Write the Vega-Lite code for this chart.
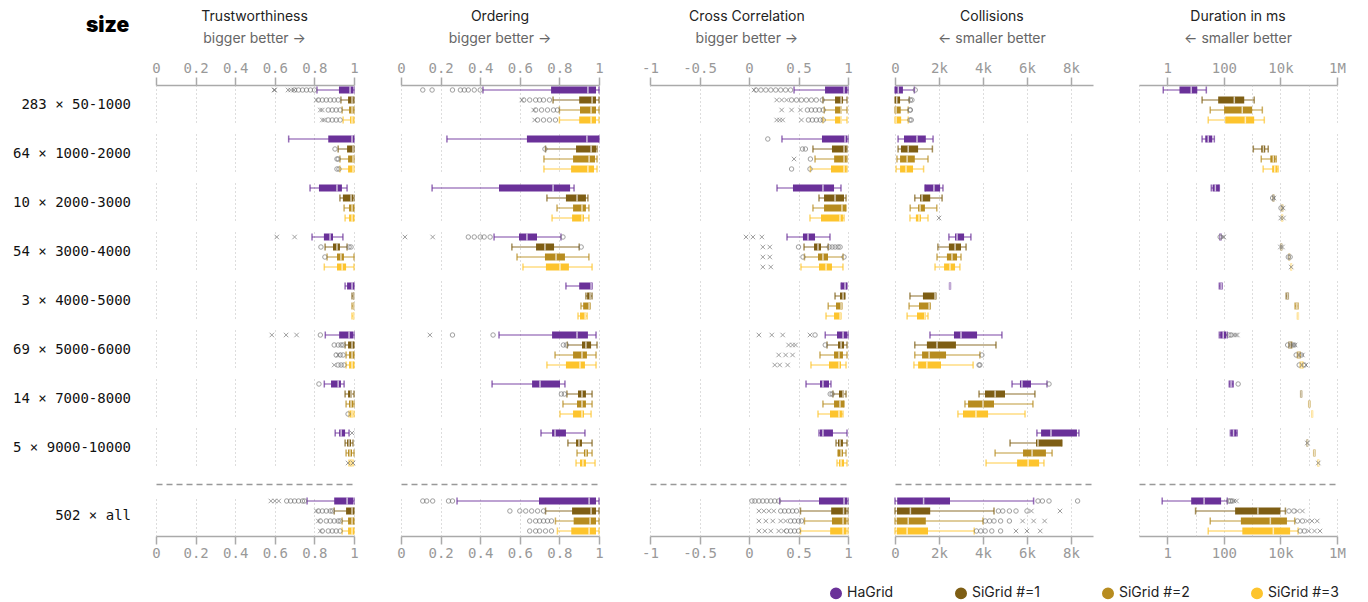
{
"$schema":"https://vega.github.io/schema/vega-lite/v6.json",
"padding":{"left":12,"top":10,"right":10,"bottom":5},
"spacing":16,
"title":{"text":"size","anchor":"start","frame":"bounds","fontSize":21,"fontWeight":900,"color":"#000","offset":-26,"dx":73},
"config":{
 "view":{"stroke":null},
 "font":"Inter",
 "range":{"category":["#6a3199","#7e5e14","#b78c20","#fdc42d"]},
 "axis":{"domainColor":"#aaa","domainWidth":1.5,"tickColor":"#aaa","tickWidth":1.5,"tickSize":8,"labelFont":"DejaVu Sans Mono","labelFontSize":14,"labelColor":"#999","labelPadding":2,"labelOverlap":false,"labelSeparation":0,"labelFlush":false,"gridColor":"#bbb","gridDash":[1,3],"gridWidth":1},
 "title":{"fontSize":14,"fontWeight":"normal","color":"#222","subtitleFontSize":14,"subtitleColor":"#666","subtitlePadding":8,"offset":15,"anchor":"middle","frame":"bounds"},
 "legend":{"orient":"none","legendX":673,"legendY":501,"direction":"horizontal","symbolType":"circle","symbolSize":110,"symbolOpacity":1,"labelFontSize":14,"labelFont":"Inter","labelColor":"#222","columnPadding":58}
},
"datasets":{"d":[
{"m":"T","s":"283 × 50-1000","g":"HaGrid","lo":0.813,"q1":0.924,"md":0.98,"q3":0.995,"hi":1},
{"m":"T","s":"283 × 50-1000","g":"SiGrid #=1","lo":0.934,"q1":0.97,"md":0.99,"q3":0.998,"hi":1},
{"m":"T","s":"283 × 50-1000","g":"SiGrid #=2","lo":0.94,"q1":0.975,"md":0.99,"q3":0.998,"hi":1},
{"m":"T","s":"283 × 50-1000","g":"SiGrid #=3","lo":0.945,"q1":0.98,"md":0.99,"q3":0.998,"hi":1},
{"m":"T","s":"64 × 1000-2000","g":"HaGrid","lo":0.67,"q1":0.87,"md":0.99,"q3":1,"hi":1},
{"m":"T","s":"64 × 1000-2000","g":"SiGrid #=1","lo":0.92,"q1":0.965,"md":0.995,"q3":1,"hi":1},
{"m":"T","s":"64 × 1000-2000","g":"SiGrid #=2","lo":0.929,"q1":0.97,"md":0.995,"q3":1,"hi":1},
{"m":"T","s":"64 × 1000-2000","g":"SiGrid #=3","lo":0.929,"q1":0.97,"md":0.995,"q3":1,"hi":1},
{"m":"T","s":"10 × 2000-3000","g":"HaGrid","lo":0.778,"q1":0.823,"md":0.914,"q3":0.939,"hi":0.965},
{"m":"T","s":"10 × 2000-3000","g":"SiGrid #=1","lo":0.929,"q1":0.944,"md":0.985,"q3":0.995,"hi":1},
{"m":"T","s":"10 × 2000-3000","g":"SiGrid #=2","lo":0.95,"q1":0.975,"md":0.99,"q3":1,"hi":1},
{"m":"T","s":"10 × 2000-3000","g":"SiGrid #=3","lo":0.955,"q1":0.975,"md":0.99,"q3":1,"hi":1},
{"m":"T","s":"54 × 3000-4000","g":"HaGrid","lo":0.788,"q1":0.848,"md":0.879,"q3":0.894,"hi":0.944},
{"m":"T","s":"54 × 3000-4000","g":"SiGrid #=1","lo":0.854,"q1":0.894,"md":0.914,"q3":0.929,"hi":0.965},
{"m":"T","s":"54 × 3000-4000","g":"SiGrid #=2","lo":0.864,"q1":0.914,"md":0.934,"q3":0.949,"hi":1},
{"m":"T","s":"54 × 3000-4000","g":"SiGrid #=3","lo":0.85,"q1":0.914,"md":0.94,"q3":0.96,"hi":1},
{"m":"T","s":"3 × 4000-5000","g":"HaGrid","lo":0.955,"q1":0.965,"md":0.99,"q3":1,"hi":1},
{"m":"T","s":"3 × 4000-5000","g":"SiGrid #=1","lo":0.99,"q1":0.995,"md":1,"q3":1,"hi":1},
{"m":"T","s":"3 × 4000-5000","g":"SiGrid #=2","lo":0.99,"q1":0.995,"md":1,"q3":1,"hi":1},
{"m":"T","s":"3 × 4000-5000","g":"SiGrid #=3","lo":0.99,"q1":0.995,"md":1,"q3":1,"hi":1},
{"m":"T","s":"69 × 5000-6000","g":"HaGrid","lo":0.855,"q1":0.925,"md":0.975,"q3":0.995,"hi":1},
{"m":"T","s":"69 × 5000-6000","g":"SiGrid #=1","lo":0.955,"q1":0.97,"md":0.99,"q3":1,"hi":1},
{"m":"T","s":"69 × 5000-6000","g":"SiGrid #=2","lo":0.96,"q1":0.975,"md":0.99,"q3":1,"hi":1},
{"m":"T","s":"69 × 5000-6000","g":"SiGrid #=3","lo":0.96,"q1":0.975,"md":0.99,"q3":1,"hi":1},
{"m":"T","s":"14 × 7000-8000","g":"HaGrid","lo":0.85,"q1":0.884,"md":0.92,"q3":0.934,"hi":0.95},
{"m":"T","s":"14 × 7000-8000","g":"SiGrid #=1","lo":0.955,"q1":0.97,"md":0.985,"q3":0.99,"hi":1},
{"m":"T","s":"14 × 7000-8000","g":"SiGrid #=2","lo":0.96,"q1":0.975,"md":0.985,"q3":0.995,"hi":1},
{"m":"T","s":"14 × 7000-8000","g":"SiGrid #=3","lo":0.975,"q1":0.98,"md":0.99,"q3":0.995,"hi":1},
{"m":"T","s":"5 × 9000-10000","g":"HaGrid","lo":0.905,"q1":0.925,"md":0.935,"q3":0.955,"hi":0.975},
{"m":"T","s":"5 × 9000-10000","g":"SiGrid #=1","lo":0.955,"q1":0.965,"md":0.975,"q3":0.985,"hi":0.995},
{"m":"T","s":"5 × 9000-10000","g":"SiGrid #=2","lo":0.96,"q1":0.97,"md":0.98,"q3":0.99,"hi":1},
{"m":"T","s":"5 × 9000-10000","g":"SiGrid #=3","lo":0.975,"q1":0.98,"md":0.985,"q3":0.99,"hi":0.995},
{"m":"T","s":"502 × all","g":"HaGrid","lo":0.763,"q1":0.9,"md":0.965,"q3":0.995,"hi":1},
{"m":"T","s":"502 × all","g":"SiGrid #=1","lo":0.9,"q1":0.96,"md":0.99,"q3":1,"hi":1},
{"m":"T","s":"502 × all","g":"SiGrid #=2","lo":0.94,"q1":0.97,"md":0.99,"q3":1,"hi":1},
{"m":"T","s":"502 × all","g":"SiGrid #=3","lo":0.94,"q1":0.97,"md":0.99,"q3":1,"hi":1},
{"m":"O","s":"283 × 50-1000","g":"HaGrid","lo":0.414,"q1":0.758,"md":0.944,"q3":0.985,"hi":1},
{"m":"O","s":"283 × 50-1000","g":"SiGrid #=1","lo":0.768,"q1":0.9,"md":0.965,"q3":0.985,"hi":1},
{"m":"O","s":"283 × 50-1000","g":"SiGrid #=2","lo":0.8,"q1":0.904,"md":0.96,"q3":0.985,"hi":1},
{"m":"O","s":"283 × 50-1000","g":"SiGrid #=3","lo":0.8,"q1":0.9,"md":0.96,"q3":0.985,"hi":1},
{"m":"O","s":"64 × 1000-2000","g":"HaGrid","lo":0.232,"q1":0.636,"md":0.939,"q3":1,"hi":1},
{"m":"O","s":"64 × 1000-2000","g":"SiGrid #=1","lo":0.73,"q1":0.884,"md":0.96,"q3":0.985,"hi":0.99},
{"m":"O","s":"64 × 1000-2000","g":"SiGrid #=2","lo":0.722,"q1":0.869,"md":0.95,"q3":0.98,"hi":0.99},
{"m":"O","s":"64 × 1000-2000","g":"SiGrid #=3","lo":0.722,"q1":0.859,"md":0.944,"q3":0.975,"hi":0.99},
{"m":"O","s":"10 × 2000-3000","g":"HaGrid","lo":0.157,"q1":0.495,"md":0.768,"q3":0.854,"hi":0.874},
{"m":"O","s":"10 × 2000-3000","g":"SiGrid #=1","lo":0.737,"q1":0.833,"md":0.889,"q3":0.934,"hi":0.944},
{"m":"O","s":"10 × 2000-3000","g":"SiGrid #=2","lo":0.788,"q1":0.869,"md":0.914,"q3":0.934,"hi":0.949},
{"m":"O","s":"10 × 2000-3000","g":"SiGrid #=3","lo":0.763,"q1":0.864,"md":0.914,"q3":0.924,"hi":0.949},
{"m":"O","s":"54 × 3000-4000","g":"HaGrid","lo":0.47,"q1":0.596,"md":0.636,"q3":0.687,"hi":0.808},
{"m":"O","s":"54 × 3000-4000","g":"SiGrid #=1","lo":0.56,"q1":0.682,"md":0.727,"q3":0.773,"hi":0.9},
{"m":"O","s":"54 × 3000-4000","g":"SiGrid #=2","lo":0.586,"q1":0.727,"md":0.783,"q3":0.828,"hi":0.949},
{"m":"O","s":"54 × 3000-4000","g":"SiGrid #=3","lo":0.616,"q1":0.732,"md":0.803,"q3":0.848,"hi":0.965},
{"m":"O","s":"3 × 4000-5000","g":"HaGrid","lo":0.833,"q1":0.9,"md":0.96,"q3":0.965,"hi":0.965},
{"m":"O","s":"3 × 4000-5000","g":"SiGrid #=1","lo":0.934,"q1":0.94,"md":0.955,"q3":0.96,"hi":0.965},
{"m":"O","s":"3 × 4000-5000","g":"SiGrid #=2","lo":0.909,"q1":0.92,"md":0.95,"q3":0.955,"hi":0.955},
{"m":"O","s":"3 × 4000-5000","g":"SiGrid #=3","lo":0.894,"q1":0.904,"md":0.93,"q3":0.935,"hi":0.94},
{"m":"O","s":"69 × 5000-6000","g":"HaGrid","lo":0.495,"q1":0.763,"md":0.889,"q3":0.944,"hi":0.985},
{"m":"O","s":"69 × 5000-6000","g":"SiGrid #=1","lo":0.84,"q1":0.914,"md":0.934,"q3":0.96,"hi":0.99},
{"m":"O","s":"69 × 5000-6000","g":"SiGrid #=2","lo":0.778,"q1":0.869,"md":0.914,"q3":0.939,"hi":0.985},
{"m":"O","s":"69 × 5000-6000","g":"SiGrid #=3","lo":0.737,"q1":0.833,"md":0.904,"q3":0.929,"hi":0.985},
{"m":"O","s":"14 × 7000-8000","g":"HaGrid","lo":0.46,"q1":0.662,"md":0.702,"q3":0.803,"hi":0.828},
{"m":"O","s":"14 × 7000-8000","g":"SiGrid #=1","lo":0.838,"q1":0.894,"md":0.914,"q3":0.934,"hi":0.965},
{"m":"O","s":"14 × 7000-8000","g":"SiGrid #=2","lo":0.818,"q1":0.889,"md":0.914,"q3":0.934,"hi":0.965},
{"m":"O","s":"14 × 7000-8000","g":"SiGrid #=3","lo":0.803,"q1":0.869,"md":0.914,"q3":0.924,"hi":0.96},
{"m":"O","s":"5 × 9000-10000","g":"HaGrid","lo":0.707,"q1":0.763,"md":0.778,"q3":0.833,"hi":0.929},
{"m":"O","s":"5 × 9000-10000","g":"SiGrid #=1","lo":0.843,"q1":0.884,"md":0.899,"q3":0.914,"hi":0.965},
{"m":"O","s":"5 × 9000-10000","g":"SiGrid #=2","lo":0.889,"q1":0.924,"md":0.934,"q3":0.944,"hi":0.965},
{"m":"O","s":"5 × 9000-10000","g":"SiGrid #=3","lo":0.884,"q1":0.904,"md":0.919,"q3":0.934,"hi":0.98},
{"m":"O","s":"502 × all","g":"HaGrid","lo":0.283,"q1":0.697,"md":0.95,"q3":0.985,"hi":1},
{"m":"O","s":"502 × all","g":"SiGrid #=1","lo":0.73,"q1":0.864,"md":0.96,"q3":0.985,"hi":1},
{"m":"O","s":"502 × all","g":"SiGrid #=2","lo":0.78,"q1":0.872,"md":0.955,"q3":0.985,"hi":1},
{"m":"O","s":"502 × all","g":"SiGrid #=3","lo":0.79,"q1":0.86,"md":0.95,"q3":0.985,"hi":1},
{"m":"C","s":"283 × 50-1000","g":"HaGrid","lo":0.455,"q1":0.768,"md":0.96,"q3":0.99,"hi":1},
{"m":"C","s":"283 × 50-1000","g":"SiGrid #=1","lo":0.747,"q1":0.869,"md":0.93,"q3":0.95,"hi":0.99},
{"m":"C","s":"283 × 50-1000","g":"SiGrid #=2","lo":0.76,"q1":0.869,"md":0.93,"q3":0.939,"hi":0.99},
{"m":"C","s":"283 × 50-1000","g":"SiGrid #=3","lo":0.747,"q1":0.869,"md":0.93,"q3":0.939,"hi":0.99},
{"m":"C","s":"64 × 1000-2000","g":"HaGrid","lo":0.333,"q1":0.737,"md":0.97,"q3":0.99,"hi":1},
{"m":"C","s":"64 × 1000-2000","g":"SiGrid #=1","lo":0.646,"q1":0.838,"md":0.96,"q3":0.985,"hi":0.99},
{"m":"C","s":"64 × 1000-2000","g":"SiGrid #=2","lo":0.667,"q1":0.86,"md":0.96,"q3":0.985,"hi":0.99},
{"m":"C","s":"64 × 1000-2000","g":"SiGrid #=3","lo":0.62,"q1":0.828,"md":0.96,"q3":0.985,"hi":0.99},
{"m":"C","s":"10 × 2000-3000","g":"HaGrid","lo":0.283,"q1":0.444,"md":0.747,"q3":0.859,"hi":0.929},
{"m":"C","s":"10 × 2000-3000","g":"SiGrid #=1","lo":0.707,"q1":0.758,"md":0.869,"q3":0.96,"hi":0.98},
{"m":"C","s":"10 × 2000-3000","g":"SiGrid #=2","lo":0.646,"q1":0.758,"md":0.939,"q3":0.98,"hi":0.98},
{"m":"C","s":"10 × 2000-3000","g":"SiGrid #=3","lo":0.616,"q1":0.727,"md":0.919,"q3":0.949,"hi":0.96},
{"m":"C","s":"54 × 3000-4000","g":"HaGrid","lo":0.384,"q1":0.545,"md":0.596,"q3":0.667,"hi":0.818},
{"m":"C","s":"54 × 3000-4000","g":"SiGrid #=1","lo":0.556,"q1":0.657,"md":0.697,"q3":0.727,"hi":0.8},
{"m":"C","s":"54 × 3000-4000","g":"SiGrid #=2","lo":0.56,"q1":0.697,"md":0.747,"q3":0.798,"hi":0.95},
{"m":"C","s":"54 × 3000-4000","g":"SiGrid #=3","lo":0.525,"q1":0.707,"md":0.778,"q3":0.838,"hi":0.949},
{"m":"C","s":"3 × 4000-5000","g":"HaGrid","lo":0.93,"q1":0.93,"md":0.97,"q3":0.99,"hi":0.99},
{"m":"C","s":"3 × 4000-5000","g":"SiGrid #=1","lo":0.869,"q1":0.919,"md":0.95,"q3":0.97,"hi":0.97},
{"m":"C","s":"3 × 4000-5000","g":"SiGrid #=2","lo":0.8,"q1":0.879,"md":0.93,"q3":0.939,"hi":0.939},
{"m":"C","s":"3 × 4000-5000","g":"SiGrid #=3","lo":0.778,"q1":0.859,"md":0.92,"q3":0.929,"hi":0.929},
{"m":"C","s":"69 × 5000-6000","g":"HaGrid","lo":0.77,"q1":0.889,"md":0.95,"q3":0.99,"hi":1},
{"m":"C","s":"69 × 5000-6000","g":"SiGrid #=1","lo":0.788,"q1":0.899,"md":0.93,"q3":0.96,"hi":0.99},
{"m":"C","s":"69 × 5000-6000","g":"SiGrid #=2","lo":0.717,"q1":0.859,"md":0.909,"q3":0.949,"hi":0.99},
{"m":"C","s":"69 × 5000-6000","g":"SiGrid #=3","lo":0.626,"q1":0.808,"md":0.909,"q3":0.929,"hi":0.98},
{"m":"C","s":"14 × 7000-8000","g":"HaGrid","lo":0.576,"q1":0.717,"md":0.747,"q3":0.808,"hi":0.828},
{"m":"C","s":"14 × 7000-8000","g":"SiGrid #=1","lo":0.848,"q1":0.909,"md":0.95,"q3":0.96,"hi":0.98},
{"m":"C","s":"14 × 7000-8000","g":"SiGrid #=2","lo":0.747,"q1":0.859,"md":0.919,"q3":0.96,"hi":0.96},
{"m":"C","s":"14 × 7000-8000","g":"SiGrid #=3","lo":0.697,"q1":0.818,"md":0.909,"q3":0.939,"hi":0.949},
{"m":"C","s":"5 × 9000-10000","g":"HaGrid","lo":0.707,"q1":0.717,"md":0.747,"q3":0.848,"hi":0.99},
{"m":"C","s":"5 × 9000-10000","g":"SiGrid #=1","lo":0.879,"q1":0.899,"md":0.92,"q3":0.949,"hi":0.99},
{"m":"C","s":"5 × 9000-10000","g":"SiGrid #=2","lo":0.899,"q1":0.899,"md":0.93,"q3":0.949,"hi":0.98},
{"m":"C","s":"5 × 9000-10000","g":"SiGrid #=3","lo":0.889,"q1":0.909,"md":0.93,"q3":0.96,"hi":0.99},
{"m":"C","s":"502 × all","g":"HaGrid","lo":0.31,"q1":0.707,"md":0.96,"q3":0.99,"hi":1},
{"m":"C","s":"502 × all","g":"SiGrid #=1","lo":0.52,"q1":0.83,"md":0.955,"q3":0.985,"hi":1},
{"m":"C","s":"502 × all","g":"SiGrid #=2","lo":0.56,"q1":0.838,"md":0.95,"q3":0.985,"hi":1},
{"m":"C","s":"502 × all","g":"SiGrid #=3","lo":0.52,"q1":0.82,"md":0.95,"q3":0.985,"hi":1},
{"m":"K","s":"283 × 50-1000","g":"HaGrid","lo":0,"q1":0,"md":150,"q3":360,"hi":880},
{"m":"K","s":"283 × 50-1000","g":"SiGrid #=1","lo":0,"q1":0,"md":80,"q3":230,"hi":650},
{"m":"K","s":"283 × 50-1000","g":"SiGrid #=2","lo":0,"q1":0,"md":50,"q3":260,"hi":600},
{"m":"K","s":"283 × 50-1000","g":"SiGrid #=3","lo":0,"q1":0,"md":50,"q3":280,"hi":600},
{"m":"K","s":"64 × 1000-2000","g":"HaGrid","lo":140,"q1":410,"md":1000,"q3":1400,"hi":1730},
{"m":"K","s":"64 × 1000-2000","g":"SiGrid #=1","lo":140,"q1":270,"md":600,"q3":1050,"hi":1700},
{"m":"K","s":"64 × 1000-2000","g":"SiGrid #=2","lo":90,"q1":230,"md":550,"q3":900,"hi":1500},
{"m":"K","s":"64 × 1000-2000","g":"SiGrid #=3","lo":50,"q1":230,"md":500,"q3":820,"hi":1300},
{"m":"K","s":"10 × 2000-3000","g":"HaGrid","lo":1360,"q1":1360,"md":1770,"q3":2050,"hi":2180},
{"m":"K","s":"10 × 2000-3000","g":"SiGrid #=1","lo":900,"q1":1140,"md":1230,"q3":1600,"hi":2140},
{"m":"K","s":"10 × 2000-3000","g":"SiGrid #=2","lo":690,"q1":1050,"md":1140,"q3":1360,"hi":1900},
{"m":"K","s":"10 × 2000-3000","g":"SiGrid #=3","lo":680,"q1":950,"md":1090,"q3":1180,"hi":1500},
{"m":"K","s":"54 × 3000-4000","g":"HaGrid","lo":2450,"q1":2730,"md":2820,"q3":3140,"hi":3450},
{"m":"K","s":"54 × 3000-4000","g":"SiGrid #=1","lo":1950,"q1":2450,"md":2730,"q3":3000,"hi":3230},
{"m":"K","s":"54 × 3000-4000","g":"SiGrid #=2","lo":1910,"q1":2360,"md":2590,"q3":2820,"hi":3000},
{"m":"K","s":"54 × 3000-4000","g":"SiGrid #=3","lo":1820,"q1":2230,"md":2500,"q3":2730,"hi":2950},
{"m":"K","s":"3 × 4000-5000","g":"HaGrid","lo":2480,"q1":2480,"md":2500,"q3":2520,"hi":2520},
{"m":"K","s":"3 × 4000-5000","g":"SiGrid #=1","lo":680,"q1":1270,"md":1820,"q3":1860,"hi":1860},
{"m":"K","s":"3 × 4000-5000","g":"SiGrid #=2","lo":640,"q1":1090,"md":1550,"q3":1600,"hi":1600},
{"m":"K","s":"3 × 4000-5000","g":"SiGrid #=3","lo":550,"q1":1000,"md":1360,"q3":1410,"hi":1500},
{"m":"K","s":"69 × 5000-6000","g":"HaGrid","lo":1590,"q1":2680,"md":3000,"q3":3730,"hi":4860},
{"m":"K","s":"69 × 5000-6000","g":"SiGrid #=1","lo":900,"q1":1450,"md":1910,"q3":2770,"hi":4590},
{"m":"K","s":"69 × 5000-6000","g":"SiGrid #=2","lo":900,"q1":1230,"md":1550,"q3":2320,"hi":3860},
{"m":"K","s":"69 × 5000-6000","g":"SiGrid #=3","lo":860,"q1":1050,"md":1450,"q3":2090,"hi":3550},
{"m":"K","s":"14 × 7000-8000","g":"HaGrid","lo":5320,"q1":5680,"md":5770,"q3":6180,"hi":6910},
{"m":"K","s":"14 × 7000-8000","g":"SiGrid #=1","lo":3820,"q1":4090,"md":4550,"q3":5000,"hi":6360},
{"m":"K","s":"14 × 7000-8000","g":"SiGrid #=2","lo":3180,"q1":3320,"md":4000,"q3":4500,"hi":6270},
{"m":"K","s":"14 × 7000-8000","g":"SiGrid #=3","lo":2860,"q1":3090,"md":3680,"q3":4230,"hi":5910},
{"m":"K","s":"5 × 9000-10000","g":"HaGrid","lo":6450,"q1":6640,"md":7090,"q3":8270,"hi":8360},
{"m":"K","s":"5 × 9000-10000","g":"SiGrid #=1","lo":5230,"q1":6410,"md":6500,"q3":7590,"hi":7590},
{"m":"K","s":"5 × 9000-10000","g":"SiGrid #=2","lo":4550,"q1":5820,"md":6230,"q3":6860,"hi":7140},
{"m":"K","s":"5 × 9000-10000","g":"SiGrid #=3","lo":4140,"q1":5550,"md":6050,"q3":6550,"hi":6770},
{"m":"K","s":"502 × all","g":"HaGrid","lo":0,"q1":100,"md":1300,"q3":2500,"hi":6300},
{"m":"K","s":"502 × all","g":"SiGrid #=1","lo":0,"q1":90,"md":700,"q3":1600,"hi":4500},
{"m":"K","s":"502 × all","g":"SiGrid #=2","lo":0,"q1":80,"md":600,"q3":1400,"hi":4000},
{"m":"K","s":"502 × all","g":"SiGrid #=3","lo":0,"q1":80,"md":550,"q3":1500,"hi":3600},
{"m":"D","s":"283 × 50-1000","g":"HaGrid","lo":0.72,"q1":2.7,"md":7,"q3":11.5,"hi":24},
{"m":"D","s":"283 × 50-1000","g":"SiGrid #=1","lo":17,"q1":63,"md":234,"q3":525,"hi":1180},
{"m":"D","s":"283 × 50-1000","g":"SiGrid #=2","lo":33,"q1":102,"md":447,"q3":1000,"hi":2290},
{"m":"D","s":"283 × 50-1000","g":"SiGrid #=3","lo":28,"q1":112,"md":575,"q3":1180,"hi":2690},
{"m":"D","s":"64 × 1000-2000","g":"HaGrid","lo":17,"q1":22,"md":28,"q3":39,"hi":46},
{"m":"D","s":"64 × 1000-2000","g":"SiGrid #=1","lo":1100,"q1":2100,"md":2500,"q3":2900,"hi":3700},
{"m":"D","s":"64 × 1000-2000","g":"SiGrid #=2","lo":2100,"q1":4400,"md":5600,"q3":6600,"hi":7100},
{"m":"D","s":"64 × 1000-2000","g":"SiGrid #=3","lo":2450,"q1":5100,"md":6300,"q3":7800,"hi":8300},
{"m":"D","s":"10 × 2000-3000","g":"HaGrid","lo":36,"q1":40,"md":50,"q3":69,"hi":69},
{"m":"D","s":"10 × 2000-3000","g":"SiGrid #=1","lo":5400,"q1":5500,"md":5600,"q3":5700,"hi":5800},
{"m":"D","s":"10 × 2000-3000","g":"SiGrid #=2","lo":11000,"q1":11300,"md":11500,"q3":11700,"hi":12000},
{"m":"D","s":"10 × 2000-3000","g":"SiGrid #=3","lo":11200,"q1":11400,"md":11500,"q3":11600,"hi":11800},
{"m":"D","s":"54 × 3000-4000","g":"HaGrid","lo":72,"q1":74,"md":76,"q3":78,"hi":80},
{"m":"D","s":"54 × 3000-4000","g":"SiGrid #=1","lo":10400,"q1":10600,"md":10700,"q3":10900,"hi":11000},
{"m":"D","s":"54 × 3000-4000","g":"SiGrid #=2","lo":20000,"q1":20300,"md":20500,"q3":20700,"hi":21000},
{"m":"D","s":"54 × 3000-4000","g":"SiGrid #=3","lo":23500,"q1":23800,"md":24000,"q3":24200,"hi":24500},
{"m":"D","s":"3 × 4000-5000","g":"HaGrid","lo":69,"q1":72,"md":80,"q3":85,"hi":87},
{"m":"D","s":"3 × 4000-5000","g":"SiGrid #=1","lo":16000,"q1":17000,"md":18000,"q3":18500,"hi":19000},
{"m":"D","s":"3 × 4000-5000","g":"SiGrid #=2","lo":33000,"q1":35000,"md":38000,"q3":40000,"hi":42000},
{"m":"D","s":"3 × 4000-5000","g":"SiGrid #=3","lo":40000,"q1":41000,"md":42000,"q3":42500,"hi":43000},
{"m":"D","s":"69 × 5000-6000","g":"HaGrid","lo":69,"q1":74,"md":95,"q3":120,"hi":132},
{"m":"D","s":"69 × 5000-6000","g":"SiGrid #=1","lo":20000,"q1":21000,"md":22000,"q3":24000,"hi":25000},
{"m":"D","s":"69 × 5000-6000","g":"SiGrid #=2","lo":40000,"q1":42000,"md":45000,"q3":48000,"hi":50000},
{"m":"D","s":"69 × 5000-6000","g":"SiGrid #=3","lo":50000,"q1":53000,"md":56000,"q3":60000,"hi":62000},
{"m":"D","s":"14 × 7000-8000","g":"HaGrid","lo":155,"q1":160,"md":180,"q3":205,"hi":215},
{"m":"D","s":"14 × 7000-8000","g":"SiGrid #=1","lo":52000,"q1":53000,"md":54000,"q3":55000,"hi":56000},
{"m":"D","s":"14 × 7000-8000","g":"SiGrid #=2","lo":100000,"q1":102000,"md":105000,"q3":108000,"hi":110000},
{"m":"D","s":"14 × 7000-8000","g":"SiGrid #=3","lo":128000,"q1":130000,"md":132000,"q3":134000,"hi":136000},
{"m":"D","s":"5 × 9000-10000","g":"HaGrid","lo":170,"q1":180,"md":220,"q3":280,"hi":295},
{"m":"D","s":"5 × 9000-10000","g":"SiGrid #=1","lo":87000,"q1":88000,"md":89000,"q3":90000,"hi":91000},
{"m":"D","s":"5 × 9000-10000","g":"SiGrid #=2","lo":150000,"q1":155000,"md":158000,"q3":162000,"hi":165000},
{"m":"D","s":"5 × 9000-10000","g":"SiGrid #=3","lo":210000,"q1":215000,"md":218000,"q3":222000,"hi":225000},
{"m":"D","s":"502 × all","g":"HaGrid","lo":0.66,"q1":7,"md":20,"q3":80,"hi":132},
{"m":"D","s":"502 × all","g":"SiGrid #=1","lo":10,"q1":250,"md":1600,"q3":10000,"hi":15000},
{"m":"D","s":"502 × all","g":"SiGrid #=2","lo":33,"q1":400,"md":4400,"q3":17000,"hi":32000},
{"m":"D","s":"502 × all","g":"SiGrid #=3","lo":28,"q1":450,"md":5600,"q3":22000,"hi":42000},
{"m":"T","s":"283 × 50-1000","g":"HaGrid","t":"c","v":0.70},{"m":"T","s":"283 × 50-1000","g":"HaGrid","t":"c","v":0.72},{"m":"T","s":"283 × 50-1000","g":"HaGrid","t":"c","v":0.74},{"m":"T","s":"283 × 50-1000","g":"HaGrid","t":"c","v":0.76},{"m":"T","s":"283 × 50-1000","g":"HaGrid","t":"c","v":0.78},{"m":"T","s":"283 × 50-1000","g":"HaGrid","t":"c","v":0.80},
{"m":"T","s":"283 × 50-1000","g":"HaGrid","t":"x","v":0.596},{"m":"T","s":"283 × 50-1000","g":"HaGrid","t":"x","v":0.60},{"m":"T","s":"283 × 50-1000","g":"HaGrid","t":"x","v":0.667},{"m":"T","s":"283 × 50-1000","g":"HaGrid","t":"x","v":0.68},{"m":"T","s":"283 × 50-1000","g":"HaGrid","t":"x","v":0.697},
{"m":"T","s":"283 × 50-1000","g":"SiGrid #=1","t":"c","v":0.82},{"m":"T","s":"283 × 50-1000","g":"SiGrid #=1","t":"c","v":0.84},{"m":"T","s":"283 × 50-1000","g":"SiGrid #=1","t":"c","v":0.86},{"m":"T","s":"283 × 50-1000","g":"SiGrid #=1","t":"c","v":0.88},{"m":"T","s":"283 × 50-1000","g":"SiGrid #=1","t":"c","v":0.90},{"m":"T","s":"283 × 50-1000","g":"SiGrid #=1","t":"c","v":0.92},{"m":"T","s":"283 × 50-1000","g":"SiGrid #=1","t":"x","v":0.81},
{"m":"T","s":"283 × 50-1000","g":"SiGrid #=2","t":"c","v":0.87},{"m":"T","s":"283 × 50-1000","g":"SiGrid #=2","t":"c","v":0.89},{"m":"T","s":"283 × 50-1000","g":"SiGrid #=2","t":"c","v":0.91},{"m":"T","s":"283 × 50-1000","g":"SiGrid #=2","t":"c","v":0.93},{"m":"T","s":"283 × 50-1000","g":"SiGrid #=2","t":"x","v":0.83},{"m":"T","s":"283 × 50-1000","g":"SiGrid #=2","t":"x","v":0.84},
{"m":"T","s":"283 × 50-1000","g":"SiGrid #=3","t":"c","v":0.87},{"m":"T","s":"283 × 50-1000","g":"SiGrid #=3","t":"c","v":0.89},{"m":"T","s":"283 × 50-1000","g":"SiGrid #=3","t":"c","v":0.91},{"m":"T","s":"283 × 50-1000","g":"SiGrid #=3","t":"c","v":0.93},{"m":"T","s":"283 × 50-1000","g":"SiGrid #=3","t":"x","v":0.84},{"m":"T","s":"283 × 50-1000","g":"SiGrid #=3","t":"x","v":0.85},
{"m":"T","s":"64 × 1000-2000","g":"SiGrid #=1","t":"c","v":0.904},{"m":"T","s":"64 × 1000-2000","g":"SiGrid #=2","t":"c","v":0.914},{"m":"T","s":"64 × 1000-2000","g":"SiGrid #=2","t":"c","v":0.92},{"m":"T","s":"64 × 1000-2000","g":"SiGrid #=3","t":"c","v":0.914},{"m":"T","s":"64 × 1000-2000","g":"SiGrid #=3","t":"c","v":0.924},
{"m":"T","s":"54 × 3000-4000","g":"HaGrid","t":"x","v":0.61},{"m":"T","s":"54 × 3000-4000","g":"HaGrid","t":"x","v":0.70},{"m":"T","s":"54 × 3000-4000","g":"SiGrid #=1","t":"c","v":0.833},{"m":"T","s":"54 × 3000-4000","g":"SiGrid #=1","t":"c","v":0.975},{"m":"T","s":"54 × 3000-4000","g":"SiGrid #=1","t":"c","v":0.985},{"m":"T","s":"54 × 3000-4000","g":"SiGrid #=2","t":"c","v":0.853},
{"m":"T","s":"69 × 5000-6000","g":"HaGrid","t":"c","v":0.83},{"m":"T","s":"69 × 5000-6000","g":"HaGrid","t":"x","v":0.585},{"m":"T","s":"69 × 5000-6000","g":"HaGrid","t":"x","v":0.657},{"m":"T","s":"69 × 5000-6000","g":"HaGrid","t":"x","v":0.71},
{"m":"T","s":"69 × 5000-6000","g":"SiGrid #=1","t":"c","v":0.90},{"m":"T","s":"69 × 5000-6000","g":"SiGrid #=1","t":"c","v":0.92},{"m":"T","s":"69 × 5000-6000","g":"SiGrid #=1","t":"c","v":0.935},{"m":"T","s":"69 × 5000-6000","g":"SiGrid #=1","t":"c","v":0.945},
{"m":"T","s":"69 × 5000-6000","g":"SiGrid #=2","t":"c","v":0.91},{"m":"T","s":"69 × 5000-6000","g":"SiGrid #=2","t":"c","v":0.93},{"m":"T","s":"69 × 5000-6000","g":"SiGrid #=2","t":"c","v":0.945},{"m":"T","s":"69 × 5000-6000","g":"SiGrid #=2","t":"x","v":0.92},
{"m":"T","s":"69 × 5000-6000","g":"SiGrid #=3","t":"c","v":0.92},{"m":"T","s":"69 × 5000-6000","g":"SiGrid #=3","t":"c","v":0.935},{"m":"T","s":"69 × 5000-6000","g":"SiGrid #=3","t":"c","v":0.95},{"m":"T","s":"69 × 5000-6000","g":"SiGrid #=3","t":"x","v":0.90},
{"m":"T","s":"14 × 7000-8000","g":"HaGrid","t":"c","v":0.823},{"m":"T","s":"14 × 7000-8000","g":"SiGrid #=3","t":"c","v":0.97},
{"m":"T","s":"5 × 9000-10000","g":"HaGrid","t":"x","v":0.99},{"m":"T","s":"5 × 9000-10000","g":"SiGrid #=3","t":"x","v":0.97},{"m":"T","s":"5 × 9000-10000","g":"SiGrid #=3","t":"x","v":0.995},
{"m":"T","s":"502 × all","g":"HaGrid","t":"c","v":0.66},{"m":"T","s":"502 × all","g":"HaGrid","t":"c","v":0.68},{"m":"T","s":"502 × all","g":"HaGrid","t":"c","v":0.70},{"m":"T","s":"502 × all","g":"HaGrid","t":"c","v":0.72},{"m":"T","s":"502 × all","g":"HaGrid","t":"c","v":0.74},{"m":"T","s":"502 × all","g":"HaGrid","t":"c","v":0.75},{"m":"T","s":"502 × all","g":"HaGrid","t":"x","v":0.58},{"m":"T","s":"502 × all","g":"HaGrid","t":"x","v":0.60},{"m":"T","s":"502 × all","g":"HaGrid","t":"x","v":0.62},
{"m":"T","s":"502 × all","g":"SiGrid #=1","t":"c","v":0.82},{"m":"T","s":"502 × all","g":"SiGrid #=1","t":"c","v":0.84},{"m":"T","s":"502 × all","g":"SiGrid #=1","t":"c","v":0.86},{"m":"T","s":"502 × all","g":"SiGrid #=1","t":"c","v":0.88},{"m":"T","s":"502 × all","g":"SiGrid #=1","t":"c","v":0.89},{"m":"T","s":"502 × all","g":"SiGrid #=1","t":"x","v":0.81},
{"m":"T","s":"502 × all","g":"SiGrid #=2","t":"c","v":0.83},{"m":"T","s":"502 × all","g":"SiGrid #=2","t":"c","v":0.86},{"m":"T","s":"502 × all","g":"SiGrid #=2","t":"c","v":0.88},{"m":"T","s":"502 × all","g":"SiGrid #=2","t":"c","v":0.90},{"m":"T","s":"502 × all","g":"SiGrid #=2","t":"c","v":0.92},{"m":"T","s":"502 × all","g":"SiGrid #=2","t":"c","v":0.93},{"m":"T","s":"502 × all","g":"SiGrid #=2","t":"x","v":0.82},
{"m":"T","s":"502 × all","g":"SiGrid #=3","t":"c","v":0.84},{"m":"T","s":"502 × all","g":"SiGrid #=3","t":"c","v":0.87},{"m":"T","s":"502 × all","g":"SiGrid #=3","t":"c","v":0.89},{"m":"T","s":"502 × all","g":"SiGrid #=3","t":"c","v":0.91},{"m":"T","s":"502 × all","g":"SiGrid #=3","t":"c","v":0.93},{"m":"T","s":"502 × all","g":"SiGrid #=3","t":"x","v":0.83},
{"m":"O","s":"283 × 50-1000","g":"HaGrid","t":"c","v":0.11},{"m":"O","s":"283 × 50-1000","g":"HaGrid","t":"c","v":0.157},{"m":"O","s":"283 × 50-1000","g":"HaGrid","t":"c","v":0.26},{"m":"O","s":"283 × 50-1000","g":"HaGrid","t":"c","v":0.30},{"m":"O","s":"283 × 50-1000","g":"HaGrid","t":"c","v":0.32},{"m":"O","s":"283 × 50-1000","g":"HaGrid","t":"c","v":0.34},{"m":"O","s":"283 × 50-1000","g":"HaGrid","t":"c","v":0.37},{"m":"O","s":"283 × 50-1000","g":"HaGrid","t":"c","v":0.40},
{"m":"O","s":"283 × 50-1000","g":"SiGrid #=1","t":"c","v":0.62},{"m":"O","s":"283 × 50-1000","g":"SiGrid #=1","t":"c","v":0.65},{"m":"O","s":"283 × 50-1000","g":"SiGrid #=1","t":"c","v":0.68},{"m":"O","s":"283 × 50-1000","g":"SiGrid #=1","t":"c","v":0.70},{"m":"O","s":"283 × 50-1000","g":"SiGrid #=1","t":"c","v":0.72},{"m":"O","s":"283 × 50-1000","g":"SiGrid #=1","t":"c","v":0.75},{"m":"O","s":"283 × 50-1000","g":"SiGrid #=1","t":"x","v":0.61},
{"m":"O","s":"283 × 50-1000","g":"SiGrid #=2","t":"c","v":0.68},{"m":"O","s":"283 × 50-1000","g":"SiGrid #=2","t":"c","v":0.71},{"m":"O","s":"283 × 50-1000","g":"SiGrid #=2","t":"c","v":0.74},{"m":"O","s":"283 × 50-1000","g":"SiGrid #=2","t":"c","v":0.77},{"m":"O","s":"283 × 50-1000","g":"SiGrid #=2","t":"c","v":0.79},{"m":"O","s":"283 × 50-1000","g":"SiGrid #=2","t":"x","v":0.67},
{"m":"O","s":"283 × 50-1000","g":"SiGrid #=3","t":"c","v":0.69},{"m":"O","s":"283 × 50-1000","g":"SiGrid #=3","t":"c","v":0.72},{"m":"O","s":"283 × 50-1000","g":"SiGrid #=3","t":"c","v":0.75},{"m":"O","s":"283 × 50-1000","g":"SiGrid #=3","t":"c","v":0.78},{"m":"O","s":"283 × 50-1000","g":"SiGrid #=3","t":"x","v":0.675},
{"m":"O","s":"64 × 1000-2000","g":"SiGrid #=1","t":"c","v":0.727},
{"m":"O","s":"54 × 3000-4000","g":"HaGrid","t":"x","v":0.02},{"m":"O","s":"54 × 3000-4000","g":"HaGrid","t":"x","v":0.16},{"m":"O","s":"54 × 3000-4000","g":"HaGrid","t":"c","v":0.34},{"m":"O","s":"54 × 3000-4000","g":"HaGrid","t":"c","v":0.37},{"m":"O","s":"54 × 3000-4000","g":"HaGrid","t":"c","v":0.40},{"m":"O","s":"54 × 3000-4000","g":"HaGrid","t":"c","v":0.42},{"m":"O","s":"54 × 3000-4000","g":"HaGrid","t":"c","v":0.45},{"m":"O","s":"54 × 3000-4000","g":"HaGrid","t":"c","v":0.818},{"m":"O","s":"54 × 3000-4000","g":"SiGrid #=1","t":"c","v":0.91},
{"m":"O","s":"69 × 5000-6000","g":"HaGrid","t":"c","v":0.465},{"m":"O","s":"69 × 5000-6000","g":"HaGrid","t":"c","v":0.26},{"m":"O","s":"69 × 5000-6000","g":"HaGrid","t":"x","v":0.146},{"m":"O","s":"69 × 5000-6000","g":"SiGrid #=1","t":"c","v":0.82},{"m":"O","s":"69 × 5000-6000","g":"SiGrid #=1","t":"c","v":0.835},
{"m":"O","s":"14 × 7000-8000","g":"SiGrid #=1","t":"c","v":0.81},{"m":"O","s":"14 × 7000-8000","g":"SiGrid #=1","t":"c","v":0.825},
{"m":"O","s":"502 × all","g":"HaGrid","t":"c","v":0.11},{"m":"O","s":"502 × all","g":"HaGrid","t":"c","v":0.13},{"m":"O","s":"502 × all","g":"HaGrid","t":"c","v":0.16},{"m":"O","s":"502 × all","g":"HaGrid","t":"c","v":0.24},{"m":"O","s":"502 × all","g":"HaGrid","t":"c","v":0.26},
{"m":"O","s":"502 × all","g":"SiGrid #=1","t":"c","v":0.55},{"m":"O","s":"502 × all","g":"SiGrid #=1","t":"c","v":0.60},{"m":"O","s":"502 × all","g":"SiGrid #=1","t":"c","v":0.63},{"m":"O","s":"502 × all","g":"SiGrid #=1","t":"c","v":0.66},{"m":"O","s":"502 × all","g":"SiGrid #=1","t":"c","v":0.69},{"m":"O","s":"502 × all","g":"SiGrid #=1","t":"c","v":0.72},
{"m":"O","s":"502 × all","g":"SiGrid #=2","t":"c","v":0.65},{"m":"O","s":"502 × all","g":"SiGrid #=2","t":"c","v":0.68},{"m":"O","s":"502 × all","g":"SiGrid #=2","t":"c","v":0.70},{"m":"O","s":"502 × all","g":"SiGrid #=2","t":"c","v":0.72},{"m":"O","s":"502 × all","g":"SiGrid #=2","t":"c","v":0.74},{"m":"O","s":"502 × all","g":"SiGrid #=2","t":"c","v":0.76},
{"m":"O","s":"502 × all","g":"SiGrid #=3","t":"c","v":0.65},{"m":"O","s":"502 × all","g":"SiGrid #=3","t":"c","v":0.68},{"m":"O","s":"502 × all","g":"SiGrid #=3","t":"c","v":0.70},{"m":"O","s":"502 × all","g":"SiGrid #=3","t":"c","v":0.73},{"m":"O","s":"502 × all","g":"SiGrid #=3","t":"c","v":0.76},
{"m":"C","s":"283 × 50-1000","g":"HaGrid","t":"c","v":0.07},{"m":"C","s":"283 × 50-1000","g":"HaGrid","t":"c","v":0.12},{"m":"C","s":"283 × 50-1000","g":"HaGrid","t":"c","v":0.17},{"m":"C","s":"283 × 50-1000","g":"HaGrid","t":"c","v":0.22},{"m":"C","s":"283 × 50-1000","g":"HaGrid","t":"c","v":0.27},{"m":"C","s":"283 × 50-1000","g":"HaGrid","t":"c","v":0.32},{"m":"C","s":"283 × 50-1000","g":"HaGrid","t":"c","v":0.37},{"m":"C","s":"283 × 50-1000","g":"HaGrid","t":"c","v":0.42},{"m":"C","s":"283 × 50-1000","g":"HaGrid","t":"x","v":0.05},
{"m":"C","s":"283 × 50-1000","g":"SiGrid #=1","t":"c","v":0.43},{"m":"C","s":"283 × 50-1000","g":"SiGrid #=1","t":"c","v":0.48},{"m":"C","s":"283 × 50-1000","g":"SiGrid #=1","t":"c","v":0.53},{"m":"C","s":"283 × 50-1000","g":"SiGrid #=1","t":"c","v":0.58},{"m":"C","s":"283 × 50-1000","g":"SiGrid #=1","t":"c","v":0.63},{"m":"C","s":"283 × 50-1000","g":"SiGrid #=1","t":"c","v":0.68},{"m":"C","s":"283 × 50-1000","g":"SiGrid #=1","t":"c","v":0.74},{"m":"C","s":"283 × 50-1000","g":"SiGrid #=1","t":"x","v":0.28},{"m":"C","s":"283 × 50-1000","g":"SiGrid #=1","t":"x","v":0.33},{"m":"C","s":"283 × 50-1000","g":"SiGrid #=1","t":"x","v":0.38},
{"m":"C","s":"283 × 50-1000","g":"SiGrid #=2","t":"c","v":0.59},{"m":"C","s":"283 × 50-1000","g":"SiGrid #=2","t":"c","v":0.63},{"m":"C","s":"283 × 50-1000","g":"SiGrid #=2","t":"c","v":0.67},{"m":"C","s":"283 × 50-1000","g":"SiGrid #=2","t":"c","v":0.71},{"m":"C","s":"283 × 50-1000","g":"SiGrid #=2","t":"c","v":0.75},{"m":"C","s":"283 × 50-1000","g":"SiGrid #=2","t":"x","v":0.33},{"m":"C","s":"283 × 50-1000","g":"SiGrid #=2","t":"x","v":0.43},{"m":"C","s":"283 × 50-1000","g":"SiGrid #=2","t":"x","v":0.52},
{"m":"C","s":"283 × 50-1000","g":"SiGrid #=3","t":"c","v":0.60},{"m":"C","s":"283 × 50-1000","g":"SiGrid #=3","t":"c","v":0.64},{"m":"C","s":"283 × 50-1000","g":"SiGrid #=3","t":"c","v":0.68},{"m":"C","s":"283 × 50-1000","g":"SiGrid #=3","t":"c","v":0.72},{"m":"C","s":"283 × 50-1000","g":"SiGrid #=3","t":"c","v":0.75},{"m":"C","s":"283 × 50-1000","g":"SiGrid #=3","t":"x","v":0.28},{"m":"C","s":"283 × 50-1000","g":"SiGrid #=3","t":"x","v":0.31},{"m":"C","s":"283 × 50-1000","g":"SiGrid #=3","t":"x","v":0.34},{"m":"C","s":"283 × 50-1000","g":"SiGrid #=3","t":"x","v":0.53},
{"m":"C","s":"64 × 1000-2000","g":"HaGrid","t":"c","v":0.19},{"m":"C","s":"64 × 1000-2000","g":"SiGrid #=1","t":"c","v":0.54},{"m":"C","s":"64 × 1000-2000","g":"SiGrid #=1","t":"c","v":0.57},{"m":"C","s":"64 × 1000-2000","g":"SiGrid #=2","t":"c","v":0.62},{"m":"C","s":"64 × 1000-2000","g":"SiGrid #=2","t":"x","v":0.455},{"m":"C","s":"64 × 1000-2000","g":"SiGrid #=3","t":"c","v":0.43},{"m":"C","s":"64 × 1000-2000","g":"SiGrid #=3","t":"c","v":0.616},
{"m":"C","s":"54 × 3000-4000","g":"HaGrid","t":"x","v":-0.03},{"m":"C","s":"54 × 3000-4000","g":"HaGrid","t":"x","v":0.04},{"m":"C","s":"54 × 3000-4000","g":"HaGrid","t":"x","v":0.13},
{"m":"C","s":"54 × 3000-4000","g":"SiGrid #=1","t":"c","v":0.50},{"m":"C","s":"54 × 3000-4000","g":"SiGrid #=1","t":"c","v":0.81},{"m":"C","s":"54 × 3000-4000","g":"SiGrid #=1","t":"c","v":0.84},{"m":"C","s":"54 × 3000-4000","g":"SiGrid #=1","t":"c","v":0.87},{"m":"C","s":"54 × 3000-4000","g":"SiGrid #=1","t":"c","v":0.90},{"m":"C","s":"54 × 3000-4000","g":"SiGrid #=1","t":"c","v":0.92},{"m":"C","s":"54 × 3000-4000","g":"SiGrid #=1","t":"x","v":0.14},{"m":"C","s":"54 × 3000-4000","g":"SiGrid #=1","t":"x","v":0.21},
{"m":"C","s":"54 × 3000-4000","g":"SiGrid #=2","t":"c","v":0.545},{"m":"C","s":"54 × 3000-4000","g":"SiGrid #=2","t":"c","v":0.96},{"m":"C","s":"54 × 3000-4000","g":"SiGrid #=2","t":"x","v":0.14},{"m":"C","s":"54 × 3000-4000","g":"SiGrid #=2","t":"x","v":0.21},
{"m":"C","s":"54 × 3000-4000","g":"SiGrid #=3","t":"x","v":0.14},{"m":"C","s":"54 × 3000-4000","g":"SiGrid #=3","t":"x","v":0.22},
{"m":"C","s":"69 × 5000-6000","g":"HaGrid","t":"x","v":0.10},{"m":"C","s":"69 × 5000-6000","g":"HaGrid","t":"x","v":0.23},{"m":"C","s":"69 × 5000-6000","g":"HaGrid","t":"x","v":0.34},{"m":"C","s":"69 × 5000-6000","g":"HaGrid","t":"x","v":0.616},{"m":"C","s":"69 × 5000-6000","g":"HaGrid","t":"c","v":0.667},
{"m":"C","s":"69 × 5000-6000","g":"SiGrid #=1","t":"c","v":0.77},{"m":"C","s":"69 × 5000-6000","g":"SiGrid #=1","t":"x","v":0.40},{"m":"C","s":"69 × 5000-6000","g":"SiGrid #=1","t":"x","v":0.44},{"m":"C","s":"69 × 5000-6000","g":"SiGrid #=1","t":"x","v":0.47},
{"m":"C","s":"69 × 5000-6000","g":"SiGrid #=2","t":"x","v":0.30},{"m":"C","s":"69 × 5000-6000","g":"SiGrid #=2","t":"x","v":0.37},{"m":"C","s":"69 × 5000-6000","g":"SiGrid #=2","t":"x","v":0.44},
{"m":"C","s":"69 × 5000-6000","g":"SiGrid #=3","t":"x","v":0.26},{"m":"C","s":"69 × 5000-6000","g":"SiGrid #=3","t":"x","v":0.31},{"m":"C","s":"69 × 5000-6000","g":"SiGrid #=3","t":"x","v":0.39},
{"m":"C","s":"14 × 7000-8000","g":"SiGrid #=1","t":"c","v":0.82},{"m":"C","s":"14 × 7000-8000","g":"SiGrid #=1","t":"c","v":0.84},
{"m":"C","s":"502 × all","g":"HaGrid","t":"c","v":0.03},{"m":"C","s":"502 × all","g":"HaGrid","t":"c","v":0.06},{"m":"C","s":"502 × all","g":"HaGrid","t":"c","v":0.10},{"m":"C","s":"502 × all","g":"HaGrid","t":"c","v":0.14},{"m":"C","s":"502 × all","g":"HaGrid","t":"c","v":0.18},{"m":"C","s":"502 × all","g":"HaGrid","t":"c","v":0.22},{"m":"C","s":"502 × all","g":"HaGrid","t":"c","v":0.26},{"m":"C","s":"502 × all","g":"HaGrid","t":"c","v":0.30},
{"m":"C","s":"502 × all","g":"SiGrid #=1","t":"c","v":0.32},{"m":"C","s":"502 × all","g":"SiGrid #=1","t":"c","v":0.36},{"m":"C","s":"502 × all","g":"SiGrid #=1","t":"c","v":0.40},{"m":"C","s":"502 × all","g":"SiGrid #=1","t":"c","v":0.44},{"m":"C","s":"502 × all","g":"SiGrid #=1","t":"c","v":0.48},{"m":"C","s":"502 × all","g":"SiGrid #=1","t":"x","v":0.10},{"m":"C","s":"502 × all","g":"SiGrid #=1","t":"x","v":0.15},{"m":"C","s":"502 × all","g":"SiGrid #=1","t":"x","v":0.20},{"m":"C","s":"502 × all","g":"SiGrid #=1","t":"x","v":0.25},
{"m":"C","s":"502 × all","g":"SiGrid #=2","t":"c","v":0.42},{"m":"C","s":"502 × all","g":"SiGrid #=2","t":"c","v":0.46},{"m":"C","s":"502 × all","g":"SiGrid #=2","t":"c","v":0.50},{"m":"C","s":"502 × all","g":"SiGrid #=2","t":"c","v":0.53},{"m":"C","s":"502 × all","g":"SiGrid #=2","t":"x","v":0.10},{"m":"C","s":"502 × all","g":"SiGrid #=2","t":"x","v":0.17},{"m":"C","s":"502 × all","g":"SiGrid #=2","t":"x","v":0.24},{"m":"C","s":"502 × all","g":"SiGrid #=2","t":"x","v":0.32},{"m":"C","s":"502 × all","g":"SiGrid #=2","t":"x","v":0.37},
{"m":"C","s":"502 × all","g":"SiGrid #=3","t":"c","v":0.38},{"m":"C","s":"502 × all","g":"SiGrid #=3","t":"c","v":0.42},{"m":"C","s":"502 × all","g":"SiGrid #=3","t":"c","v":0.46},{"m":"C","s":"502 × all","g":"SiGrid #=3","t":"c","v":0.50},{"m":"C","s":"502 × all","g":"SiGrid #=3","t":"x","v":0.10},{"m":"C","s":"502 × all","g":"SiGrid #=3","t":"x","v":0.16},{"m":"C","s":"502 × all","g":"SiGrid #=3","t":"x","v":0.22},{"m":"C","s":"502 × all","g":"SiGrid #=3","t":"x","v":0.30},{"m":"C","s":"502 × all","g":"SiGrid #=3","t":"x","v":0.35},
{"m":"K","s":"283 × 50-1000","g":"HaGrid","t":"c","v":920},{"m":"K","s":"283 × 50-1000","g":"SiGrid #=1","t":"c","v":700},{"m":"K","s":"283 × 50-1000","g":"SiGrid #=1","t":"c","v":770},{"m":"K","s":"283 × 50-1000","g":"SiGrid #=2","t":"c","v":680},{"m":"K","s":"283 × 50-1000","g":"SiGrid #=2","t":"c","v":700},{"m":"K","s":"283 × 50-1000","g":"SiGrid #=3","t":"c","v":680},{"m":"K","s":"283 × 50-1000","g":"SiGrid #=3","t":"c","v":740},
{"m":"K","s":"10 × 2000-3000","g":"SiGrid #=3","t":"x","v":2000},
{"m":"K","s":"69 × 5000-6000","g":"SiGrid #=2","t":"c","v":3950},{"m":"K","s":"69 × 5000-6000","g":"SiGrid #=3","t":"c","v":3820},{"m":"K","s":"69 × 5000-6000","g":"SiGrid #=3","t":"c","v":3860},
{"m":"K","s":"14 × 7000-8000","g":"HaGrid","t":"c","v":7000},
{"m":"K","s":"502 × all","g":"HaGrid","t":"c","v":6500},{"m":"K","s":"502 × all","g":"HaGrid","t":"c","v":6700},{"m":"K","s":"502 × all","g":"HaGrid","t":"c","v":7000},{"m":"K","s":"502 × all","g":"HaGrid","t":"c","v":8300},
{"m":"K","s":"502 × all","g":"SiGrid #=1","t":"c","v":4700},{"m":"K","s":"502 × all","g":"SiGrid #=1","t":"c","v":4900},{"m":"K","s":"502 × all","g":"SiGrid #=1","t":"c","v":5200},{"m":"K","s":"502 × all","g":"SiGrid #=1","t":"c","v":5500},{"m":"K","s":"502 × all","g":"SiGrid #=1","t":"c","v":6000},{"m":"K","s":"502 × all","g":"SiGrid #=1","t":"x","v":6200},{"m":"K","s":"502 × all","g":"SiGrid #=1","t":"x","v":7500},
{"m":"K","s":"502 × all","g":"SiGrid #=2","t":"c","v":4100},{"m":"K","s":"502 × all","g":"SiGrid #=2","t":"c","v":4300},{"m":"K","s":"502 × all","g":"SiGrid #=2","t":"c","v":4500},{"m":"K","s":"502 × all","g":"SiGrid #=2","t":"c","v":4800},{"m":"K","s":"502 × all","g":"SiGrid #=2","t":"c","v":5200},{"m":"K","s":"502 × all","g":"SiGrid #=2","t":"x","v":5800},{"m":"K","s":"502 × all","g":"SiGrid #=2","t":"x","v":6300},{"m":"K","s":"502 × all","g":"SiGrid #=2","t":"x","v":6800},
{"m":"K","s":"502 × all","g":"SiGrid #=3","t":"c","v":3700},{"m":"K","s":"502 × all","g":"SiGrid #=3","t":"c","v":3900},{"m":"K","s":"502 × all","g":"SiGrid #=3","t":"c","v":4100},{"m":"K","s":"502 × all","g":"SiGrid #=3","t":"c","v":4400},{"m":"K","s":"502 × all","g":"SiGrid #=3","t":"c","v":4800},{"m":"K","s":"502 × all","g":"SiGrid #=3","t":"x","v":5500},{"m":"K","s":"502 × all","g":"SiGrid #=3","t":"x","v":6000},{"m":"K","s":"502 × all","g":"SiGrid #=3","t":"x","v":6600},
{"m":"D","s":"10 × 2000-3000","g":"SiGrid #=1","t":"c","v":5300},{"m":"D","s":"10 × 2000-3000","g":"SiGrid #=1","t":"x","v":5900},{"m":"D","s":"10 × 2000-3000","g":"SiGrid #=2","t":"c","v":10500},{"m":"D","s":"10 × 2000-3000","g":"SiGrid #=2","t":"x","v":12500},{"m":"D","s":"10 × 2000-3000","g":"SiGrid #=3","t":"x","v":10300},{"m":"D","s":"10 × 2000-3000","g":"SiGrid #=3","t":"x","v":12800},
{"m":"D","s":"54 × 3000-4000","g":"HaGrid","t":"c","v":74},{"m":"D","s":"54 × 3000-4000","g":"HaGrid","t":"x","v":90},{"m":"D","s":"54 × 3000-4000","g":"HaGrid","t":"x","v":100},{"m":"D","s":"54 × 3000-4000","g":"SiGrid #=1","t":"x","v":10000},{"m":"D","s":"54 × 3000-4000","g":"SiGrid #=1","t":"x","v":11800},{"m":"D","s":"54 × 3000-4000","g":"SiGrid #=2","t":"c","v":19000},{"m":"D","s":"54 × 3000-4000","g":"SiGrid #=2","t":"c","v":22000},{"m":"D","s":"54 × 3000-4000","g":"SiGrid #=3","t":"x","v":24000},
{"m":"D","s":"69 × 5000-6000","g":"HaGrid","t":"c","v":150},{"m":"D","s":"69 × 5000-6000","g":"HaGrid","t":"c","v":180},{"m":"D","s":"69 × 5000-6000","g":"HaGrid","t":"x","v":220},{"m":"D","s":"69 × 5000-6000","g":"HaGrid","t":"x","v":260},{"m":"D","s":"69 × 5000-6000","g":"HaGrid","t":"x","v":300},
{"m":"D","s":"69 × 5000-6000","g":"SiGrid #=1","t":"c","v":18000},{"m":"D","s":"69 × 5000-6000","g":"SiGrid #=1","t":"c","v":30000},{"m":"D","s":"69 × 5000-6000","g":"SiGrid #=1","t":"x","v":28000},{"m":"D","s":"69 × 5000-6000","g":"SiGrid #=1","t":"x","v":33000},
{"m":"D","s":"69 × 5000-6000","g":"SiGrid #=2","t":"c","v":36000},{"m":"D","s":"69 × 5000-6000","g":"SiGrid #=2","t":"c","v":55000},{"m":"D","s":"69 × 5000-6000","g":"SiGrid #=2","t":"x","v":60000},
{"m":"D","s":"69 × 5000-6000","g":"SiGrid #=3","t":"c","v":46000},{"m":"D","s":"69 × 5000-6000","g":"SiGrid #=3","t":"c","v":70000},{"m":"D","s":"69 × 5000-6000","g":"SiGrid #=3","t":"x","v":80000},
{"m":"D","s":"14 × 7000-8000","g":"HaGrid","t":"c","v":320},
{"m":"D","s":"5 × 9000-10000","g":"SiGrid #=1","t":"x","v":89000},{"m":"D","s":"5 × 9000-10000","g":"SiGrid #=3","t":"x","v":218000},
{"m":"D","s":"502 × all","g":"HaGrid","t":"c","v":150},{"m":"D","s":"502 × all","g":"HaGrid","t":"c","v":170},{"m":"D","s":"502 × all","g":"HaGrid","t":"c","v":200},{"m":"D","s":"502 × all","g":"HaGrid","t":"x","v":230},{"m":"D","s":"502 × all","g":"HaGrid","t":"x","v":280},
{"m":"D","s":"502 × all","g":"SiGrid #=1","t":"c","v":20000},{"m":"D","s":"502 × all","g":"SiGrid #=1","t":"c","v":30000},{"m":"D","s":"502 × all","g":"SiGrid #=1","t":"x","v":40000},{"m":"D","s":"502 × all","g":"SiGrid #=1","t":"x","v":60000},
{"m":"D","s":"502 × all","g":"SiGrid #=2","t":"c","v":40000},{"m":"D","s":"502 × all","g":"SiGrid #=2","t":"c","v":60000},{"m":"D","s":"502 × all","g":"SiGrid #=2","t":"x","v":90000},{"m":"D","s":"502 × all","g":"SiGrid #=2","t":"x","v":130000},{"m":"D","s":"502 × all","g":"SiGrid #=2","t":"x","v":200000},
{"m":"D","s":"502 × all","g":"SiGrid #=3","t":"c","v":50000},{"m":"D","s":"502 × all","g":"SiGrid #=3","t":"c","v":70000},{"m":"D","s":"502 × all","g":"SiGrid #=3","t":"x","v":100000},{"m":"D","s":"502 × all","g":"SiGrid #=3","t":"x","v":160000},{"m":"D","s":"502 × all","g":"SiGrid #=3","t":"x","v":250000}
]},
"vconcat":[
{"hconcat":[
 {"title":{"text":"Trustworthiness","subtitle":"bigger better →","dx":69},"data":{"name":"d"},"transform":[{"filter":"datum.m == 'T' && datum.s != '502 × all'"}],
  "facet":{"row":{"field":"s","type":"nominal","title":null,"sort":["283 × 50-1000","64 × 1000-2000","10 × 2000-3000","54 × 3000-4000","3 × 4000-5000","69 × 5000-6000","14 × 7000-8000","5 × 9000-10000"],
   "header":{"labelExpr":"substring('\u2800\u2800\u2800\u2800\u2800\u2800\u2800\u2800\u2800\u2800\u2800\u2800\u2800\u2800', 0, 14 - length(datum.label)) + datum.label","labelAngle":0,"labelAlign":"left","labelBaseline":"middle","labelOrient":"left","labelFont":"DejaVu Sans Mono","labelFontSize":14,"labelColor":"#111","labelPadding":25}}},
  "spacing":{"row":9},
  "spec":{"width":198,"height":40,"encoding":{"y":{"field":"g","type":"nominal","scale":{"paddingInner":0,"paddingOuter":0},"axis":null}},
   "layer":[
    {"transform":[{"filter":"isValid(datum.q1)"}],"mark":{"type":"rule","strokeWidth":1.5,"opacity":0.6},"encoding":{"x":{"field":"lo","type":"quantitative","title":null,"scale":{"domain":[0,1],"nice":false},"axis":{"orient":"top","values":[0,0.2,0.4,0.6,0.8,1],"tickCount":12,"format":"~g","labelOverlap":false,"grid":true}},"x2":{"field":"hi"},"color":{"field":"g","type":"nominal","title":null}}},
    {"transform":[{"filter":"isValid(datum.q1)"}],"mark":{"type":"tick","thickness":1.5,"size":7},"encoding":{"x":{"field":"lo","type":"quantitative","title":null},"color":{"field":"g","type":"nominal","title":null}}},
    {"transform":[{"filter":"isValid(datum.q1)"}],"mark":{"type":"tick","thickness":1.5,"size":7},"encoding":{"x":{"field":"hi","type":"quantitative","title":null},"color":{"field":"g","type":"nominal","title":null}}},
    {"transform":[{"filter":"isValid(datum.q1)"}],"mark":{"type":"bar","height":7},"encoding":{"x":{"field":"q1","type":"quantitative","title":null},"x2":{"field":"q3"},"color":{"field":"g","type":"nominal","title":null}}},
    {"transform":[{"filter":"isValid(datum.q1)"}],"mark":{"type":"tick","color":"white","opacity":0.7,"thickness":1.5,"size":7},"encoding":{"x":{"field":"md","type":"quantitative","title":null}}},
    {"transform":[{"filter":"datum.t == 'c'"}],"mark":{"type":"point","shape":"circle","filled":false,"color":"#777","size":20,"strokeWidth":1},"encoding":{"x":{"field":"v","type":"quantitative","title":null}}},
    {"transform":[{"filter":"datum.t == 'x'"}],"mark":{"type":"point","shape":"M-1,-1L1,1M-1,1L1,-1","filled":false,"color":"#777","size":20,"strokeWidth":1},"encoding":{"x":{"field":"v","type":"quantitative","title":null}}}
   ]}},
 {"title":{"text":"Ordering","subtitle":"bigger better →"},"data":{"name":"d"},"transform":[{"filter":"datum.m == 'O' && datum.s != '502 × all'"}],
  "facet":{"row":{"field":"s","type":"nominal","title":null,"sort":["283 × 50-1000","64 × 1000-2000","10 × 2000-3000","54 × 3000-4000","3 × 4000-5000","69 × 5000-6000","14 × 7000-8000","5 × 9000-10000"],"header":{"labels":false,"title":null}}},
  "spacing":{"row":9},
  "spec":{"width":198,"height":40,"encoding":{"y":{"field":"g","type":"nominal","scale":{"paddingInner":0,"paddingOuter":0},"axis":null}},
   "layer":[
    {"transform":[{"filter":"isValid(datum.q1)"}],"mark":{"type":"rule","strokeWidth":1.5,"opacity":0.6},"encoding":{"x":{"field":"lo","type":"quantitative","title":null,"scale":{"domain":[0,1],"nice":false},"axis":{"orient":"top","values":[0,0.2,0.4,0.6,0.8,1],"tickCount":12,"format":"~g","labelOverlap":false,"grid":true}},"x2":{"field":"hi"},"color":{"field":"g","type":"nominal","title":null}}},
    {"transform":[{"filter":"isValid(datum.q1)"}],"mark":{"type":"tick","thickness":1.5,"size":7},"encoding":{"x":{"field":"lo","type":"quantitative","title":null},"color":{"field":"g","type":"nominal","title":null}}},
    {"transform":[{"filter":"isValid(datum.q1)"}],"mark":{"type":"tick","thickness":1.5,"size":7},"encoding":{"x":{"field":"hi","type":"quantitative","title":null},"color":{"field":"g","type":"nominal","title":null}}},
    {"transform":[{"filter":"isValid(datum.q1)"}],"mark":{"type":"bar","height":7},"encoding":{"x":{"field":"q1","type":"quantitative","title":null},"x2":{"field":"q3"},"color":{"field":"g","type":"nominal","title":null}}},
    {"transform":[{"filter":"isValid(datum.q1)"}],"mark":{"type":"tick","color":"white","opacity":0.7,"thickness":1.5,"size":7},"encoding":{"x":{"field":"md","type":"quantitative","title":null}}},
    {"transform":[{"filter":"datum.t == 'c'"}],"mark":{"type":"point","shape":"circle","filled":false,"color":"#777","size":20,"strokeWidth":1},"encoding":{"x":{"field":"v","type":"quantitative","title":null}}},
    {"transform":[{"filter":"datum.t == 'x'"}],"mark":{"type":"point","shape":"M-1,-1L1,1M-1,1L1,-1","filled":false,"color":"#777","size":20,"strokeWidth":1},"encoding":{"x":{"field":"v","type":"quantitative","title":null}}}
   ]}},
 {"title":{"text":"Cross Correlation","subtitle":"bigger better →"},"data":{"name":"d"},"transform":[{"filter":"datum.m == 'C' && datum.s != '502 × all'"}],
  "facet":{"row":{"field":"s","type":"nominal","title":null,"sort":["283 × 50-1000","64 × 1000-2000","10 × 2000-3000","54 × 3000-4000","3 × 4000-5000","69 × 5000-6000","14 × 7000-8000","5 × 9000-10000"],"header":{"labels":false,"title":null}}},
  "spacing":{"row":9},
  "spec":{"width":198,"height":40,"encoding":{"y":{"field":"g","type":"nominal","scale":{"paddingInner":0,"paddingOuter":0},"axis":null}},
   "layer":[
    {"transform":[{"filter":"isValid(datum.q1)"}],"mark":{"type":"rule","strokeWidth":1.5,"opacity":0.6},"encoding":{"x":{"field":"lo","type":"quantitative","title":null,"scale":{"domain":[-1,1],"nice":false},"axis":{"orient":"top","values":[-1,-0.5,0,0.5,1],"tickCount":12,"format":"~g","labelOverlap":false,"labelExpr":"replace(datum.label,'−','-')","grid":true}},"x2":{"field":"hi"},"color":{"field":"g","type":"nominal","title":null}}},
    {"transform":[{"filter":"isValid(datum.q1)"}],"mark":{"type":"tick","thickness":1.5,"size":7},"encoding":{"x":{"field":"lo","type":"quantitative","title":null},"color":{"field":"g","type":"nominal","title":null}}},
    {"transform":[{"filter":"isValid(datum.q1)"}],"mark":{"type":"tick","thickness":1.5,"size":7},"encoding":{"x":{"field":"hi","type":"quantitative","title":null},"color":{"field":"g","type":"nominal","title":null}}},
    {"transform":[{"filter":"isValid(datum.q1)"}],"mark":{"type":"bar","height":7},"encoding":{"x":{"field":"q1","type":"quantitative","title":null},"x2":{"field":"q3"},"color":{"field":"g","type":"nominal","title":null}}},
    {"transform":[{"filter":"isValid(datum.q1)"}],"mark":{"type":"tick","color":"white","opacity":0.7,"thickness":1.5,"size":7},"encoding":{"x":{"field":"md","type":"quantitative","title":null}}},
    {"transform":[{"filter":"datum.t == 'c'"}],"mark":{"type":"point","shape":"circle","filled":false,"color":"#777","size":20,"strokeWidth":1},"encoding":{"x":{"field":"v","type":"quantitative","title":null}}},
    {"transform":[{"filter":"datum.t == 'x'"}],"mark":{"type":"point","shape":"M-1,-1L1,1M-1,1L1,-1","filled":false,"color":"#777","size":20,"strokeWidth":1},"encoding":{"x":{"field":"v","type":"quantitative","title":null}}}
   ]}},
 {"title":{"text":"Collisions","subtitle":"← smaller better"},"data":{"name":"d"},"transform":[{"filter":"datum.m == 'K' && datum.s != '502 × all'"}],
  "facet":{"row":{"field":"s","type":"nominal","title":null,"sort":["283 × 50-1000","64 × 1000-2000","10 × 2000-3000","54 × 3000-4000","3 × 4000-5000","69 × 5000-6000","14 × 7000-8000","5 × 9000-10000"],"header":{"labels":false,"title":null}}},
  "spacing":{"row":9},
  "spec":{"width":198,"height":40,"encoding":{"y":{"field":"g","type":"nominal","scale":{"paddingInner":0,"paddingOuter":0},"axis":null}},
   "layer":[
    {"transform":[{"filter":"isValid(datum.q1)"}],"mark":{"type":"rule","strokeWidth":1.5,"opacity":0.6},"encoding":{"x":{"field":"lo","type":"quantitative","title":null,"scale":{"domain":[0,9000],"nice":false},"axis":{"orient":"top","values":[0,2000,4000,6000,8000],"tickCount":12,"labelOverlap":false,"labelExpr":"format(datum.value, '~s')","grid":true}},"x2":{"field":"hi"},"color":{"field":"g","type":"nominal","title":null}}},
    {"transform":[{"filter":"isValid(datum.q1)"}],"mark":{"type":"tick","thickness":1.5,"size":7},"encoding":{"x":{"field":"lo","type":"quantitative","title":null},"color":{"field":"g","type":"nominal","title":null}}},
    {"transform":[{"filter":"isValid(datum.q1)"}],"mark":{"type":"tick","thickness":1.5,"size":7},"encoding":{"x":{"field":"hi","type":"quantitative","title":null},"color":{"field":"g","type":"nominal","title":null}}},
    {"transform":[{"filter":"isValid(datum.q1)"}],"mark":{"type":"bar","height":7},"encoding":{"x":{"field":"q1","type":"quantitative","title":null},"x2":{"field":"q3"},"color":{"field":"g","type":"nominal","title":null}}},
    {"transform":[{"filter":"isValid(datum.q1)"}],"mark":{"type":"tick","color":"white","opacity":0.7,"thickness":1.5,"size":7},"encoding":{"x":{"field":"md","type":"quantitative","title":null}}},
    {"transform":[{"filter":"datum.t == 'c'"}],"mark":{"type":"point","shape":"circle","filled":false,"color":"#777","size":20,"strokeWidth":1},"encoding":{"x":{"field":"v","type":"quantitative","title":null}}},
    {"transform":[{"filter":"datum.t == 'x'"}],"mark":{"type":"point","shape":"M-1,-1L1,1M-1,1L1,-1","filled":false,"color":"#777","size":20,"strokeWidth":1},"encoding":{"x":{"field":"v","type":"quantitative","title":null}}}
   ]}},
 {"title":{"text":"Duration in ms","subtitle":"← smaller better"},"data":{"name":"d"},"transform":[{"filter":"datum.m == 'D' && datum.s != '502 × all'"}],
  "facet":{"row":{"field":"s","type":"nominal","title":null,"sort":["283 × 50-1000","64 × 1000-2000","10 × 2000-3000","54 × 3000-4000","3 × 4000-5000","69 × 5000-6000","14 × 7000-8000","5 × 9000-10000"],"header":{"labels":false,"title":null}}},
  "spacing":{"row":9},
  "spec":{"width":198,"height":40,"encoding":{"y":{"field":"g","type":"nominal","scale":{"paddingInner":0,"paddingOuter":0},"axis":null}},
   "layer":[
    {"transform":[{"filter":"isValid(datum.q1)"}],"mark":{"type":"rule","strokeWidth":1.5,"opacity":0.6},"encoding":{"x":{"field":"lo","type":"quantitative","title":null,"scale":{"type":"log","domain":[0.1,1000000],"nice":false},"axis":{"orient":"top","values":[0.1,1,10,100,1000,10000,100000,1000000],"labelOverlap":false,"labelExpr":"datum.value < 0.5 ? '00' : (round(log(datum.value)/LN10) % 2 == 0 ? format(datum.value, '~s') : '')","labelOpacity":{"condition":{"test":"datum.value < 0.5","value":0},"value":1},"tickOpacity":{"condition":{"test":"round(log(datum.value)/LN10) % 2 == 0","value":1},"value":0},"grid":true}},"x2":{"field":"hi"},"color":{"field":"g","type":"nominal","title":null}}},
    {"transform":[{"filter":"isValid(datum.q1)"}],"mark":{"type":"tick","thickness":1.5,"size":7},"encoding":{"x":{"field":"lo","type":"quantitative","title":null},"color":{"field":"g","type":"nominal","title":null}}},
    {"transform":[{"filter":"isValid(datum.q1)"}],"mark":{"type":"tick","thickness":1.5,"size":7},"encoding":{"x":{"field":"hi","type":"quantitative","title":null},"color":{"field":"g","type":"nominal","title":null}}},
    {"transform":[{"filter":"isValid(datum.q1)"}],"mark":{"type":"bar","height":7},"encoding":{"x":{"field":"q1","type":"quantitative","title":null},"x2":{"field":"q3"},"color":{"field":"g","type":"nominal","title":null}}},
    {"transform":[{"filter":"isValid(datum.q1)"}],"mark":{"type":"tick","color":"white","opacity":0.7,"thickness":1.5,"size":7},"encoding":{"x":{"field":"md","type":"quantitative","title":null}}},
    {"transform":[{"filter":"datum.t == 'c'"}],"mark":{"type":"point","shape":"circle","filled":false,"color":"#777","size":20,"strokeWidth":1},"encoding":{"x":{"field":"v","type":"quantitative","title":null}}},
    {"transform":[{"filter":"datum.t == 'x'"}],"mark":{"type":"point","shape":"M-1,-1L1,1M-1,1L1,-1","filled":false,"color":"#777","size":20,"strokeWidth":1},"encoding":{"x":{"field":"v","type":"quantitative","title":null}}}
   ]}}
],"spacing":37},
{"hconcat":[
 {"data":{"name":"d"},"transform":[{"filter":"datum.m == 'T' && datum.s == '502 × all'"}],
  "facet":{"row":{"field":"s","type":"nominal","title":null,"header":{"labelExpr":"substring('\u2800\u2800\u2800\u2800\u2800\u2800\u2800\u2800\u2800\u2800\u2800\u2800\u2800\u2800', 0, 14 - length(datum.label)) + datum.label","labelAngle":0,"labelAlign":"left","labelBaseline":"middle","labelOrient":"left","labelFont":"DejaVu Sans Mono","labelFontSize":14,"labelColor":"#111","labelPadding":25}}},
  "spec":{"width":198,"height":40,"encoding":{"y":{"field":"g","type":"nominal","scale":{"paddingInner":0,"paddingOuter":0},"axis":null}},
   "layer":[
    {"layer":[
    {"transform":[{"filter":"isValid(datum.q1)"}],"mark":{"type":"rule","strokeWidth":1.5,"opacity":0.6},"encoding":{"x":{"field":"lo","type":"quantitative","title":null,"scale":{"domain":[0,1],"nice":false},"axis":{"orient":"bottom","values":[0,0.2,0.4,0.6,0.8,1],"tickCount":12,"format":"~g","labelOverlap":false,"grid":true}},"x2":{"field":"hi"},"color":{"field":"g","type":"nominal","title":null}}},
    {"transform":[{"filter":"isValid(datum.q1)"}],"mark":{"type":"tick","thickness":1.5,"size":7},"encoding":{"x":{"field":"lo","type":"quantitative","title":null},"color":{"field":"g","type":"nominal","title":null}}},
    {"transform":[{"filter":"isValid(datum.q1)"}],"mark":{"type":"tick","thickness":1.5,"size":7},"encoding":{"x":{"field":"hi","type":"quantitative","title":null},"color":{"field":"g","type":"nominal","title":null}}},
    {"transform":[{"filter":"isValid(datum.q1)"}],"mark":{"type":"bar","height":7},"encoding":{"x":{"field":"q1","type":"quantitative","title":null},"x2":{"field":"q3"},"color":{"field":"g","type":"nominal","title":null}}},
    {"transform":[{"filter":"isValid(datum.q1)"}],"mark":{"type":"tick","color":"white","opacity":0.7,"thickness":1.5,"size":7},"encoding":{"x":{"field":"md","type":"quantitative","title":null}}},
    {"transform":[{"filter":"datum.t == 'c'"}],"mark":{"type":"point","shape":"circle","filled":false,"color":"#777","size":20,"strokeWidth":1},"encoding":{"x":{"field":"v","type":"quantitative","title":null}}},
    {"transform":[{"filter":"datum.t == 'x'"}],"mark":{"type":"point","shape":"M-1,-1L1,1M-1,1L1,-1","filled":false,"color":"#777","size":20,"strokeWidth":1},"encoding":{"x":{"field":"v","type":"quantitative","title":null}}}
    ]},
    {"transform":[{"filter":"isValid(datum.q1)"}],"mark":{"type":"tick","opacity":0},"encoding":{"x":{"field":"md","type":"quantitative","title":null,"axis":{"orient":"top","labels":false,"ticks":false,"grid":false,"domainDash":[6,4],"domainColor":"#999","offset":12}}}}
   ],"resolve":{"axis":{"x":"independent"}}}},
 {"data":{"name":"d"},"transform":[{"filter":"datum.m == 'O' && datum.s == '502 × all'"}],
  "facet":{"row":{"field":"s","type":"nominal","title":null,"header":{"labels":false,"title":null}}},
  "spec":{"width":198,"height":40,"encoding":{"y":{"field":"g","type":"nominal","scale":{"paddingInner":0,"paddingOuter":0},"axis":null}},
   "layer":[
    {"layer":[
    {"transform":[{"filter":"isValid(datum.q1)"}],"mark":{"type":"rule","strokeWidth":1.5,"opacity":0.6},"encoding":{"x":{"field":"lo","type":"quantitative","title":null,"scale":{"domain":[0,1],"nice":false},"axis":{"orient":"bottom","values":[0,0.2,0.4,0.6,0.8,1],"tickCount":12,"format":"~g","labelOverlap":false,"grid":true}},"x2":{"field":"hi"},"color":{"field":"g","type":"nominal","title":null}}},
    {"transform":[{"filter":"isValid(datum.q1)"}],"mark":{"type":"tick","thickness":1.5,"size":7},"encoding":{"x":{"field":"lo","type":"quantitative","title":null},"color":{"field":"g","type":"nominal","title":null}}},
    {"transform":[{"filter":"isValid(datum.q1)"}],"mark":{"type":"tick","thickness":1.5,"size":7},"encoding":{"x":{"field":"hi","type":"quantitative","title":null},"color":{"field":"g","type":"nominal","title":null}}},
    {"transform":[{"filter":"isValid(datum.q1)"}],"mark":{"type":"bar","height":7},"encoding":{"x":{"field":"q1","type":"quantitative","title":null},"x2":{"field":"q3"},"color":{"field":"g","type":"nominal","title":null}}},
    {"transform":[{"filter":"isValid(datum.q1)"}],"mark":{"type":"tick","color":"white","opacity":0.7,"thickness":1.5,"size":7},"encoding":{"x":{"field":"md","type":"quantitative","title":null}}},
    {"transform":[{"filter":"datum.t == 'c'"}],"mark":{"type":"point","shape":"circle","filled":false,"color":"#777","size":20,"strokeWidth":1},"encoding":{"x":{"field":"v","type":"quantitative","title":null}}},
    {"transform":[{"filter":"datum.t == 'x'"}],"mark":{"type":"point","shape":"M-1,-1L1,1M-1,1L1,-1","filled":false,"color":"#777","size":20,"strokeWidth":1},"encoding":{"x":{"field":"v","type":"quantitative","title":null}}}
    ]},
    {"transform":[{"filter":"isValid(datum.q1)"}],"mark":{"type":"tick","opacity":0},"encoding":{"x":{"field":"md","type":"quantitative","title":null,"axis":{"orient":"top","labels":false,"ticks":false,"grid":false,"domainDash":[6,4],"domainColor":"#999","offset":12}}}}
   ],"resolve":{"axis":{"x":"independent"}}}},
 {"data":{"name":"d"},"transform":[{"filter":"datum.m == 'C' && datum.s == '502 × all'"}],
  "facet":{"row":{"field":"s","type":"nominal","title":null,"header":{"labels":false,"title":null}}},
  "spec":{"width":198,"height":40,"encoding":{"y":{"field":"g","type":"nominal","scale":{"paddingInner":0,"paddingOuter":0},"axis":null}},
   "layer":[
    {"layer":[
    {"transform":[{"filter":"isValid(datum.q1)"}],"mark":{"type":"rule","strokeWidth":1.5,"opacity":0.6},"encoding":{"x":{"field":"lo","type":"quantitative","title":null,"scale":{"domain":[-1,1],"nice":false},"axis":{"orient":"bottom","values":[-1,-0.5,0,0.5,1],"tickCount":12,"format":"~g","labelOverlap":false,"labelExpr":"replace(datum.label,'−','-')","grid":true}},"x2":{"field":"hi"},"color":{"field":"g","type":"nominal","title":null}}},
    {"transform":[{"filter":"isValid(datum.q1)"}],"mark":{"type":"tick","thickness":1.5,"size":7},"encoding":{"x":{"field":"lo","type":"quantitative","title":null},"color":{"field":"g","type":"nominal","title":null}}},
    {"transform":[{"filter":"isValid(datum.q1)"}],"mark":{"type":"tick","thickness":1.5,"size":7},"encoding":{"x":{"field":"hi","type":"quantitative","title":null},"color":{"field":"g","type":"nominal","title":null}}},
    {"transform":[{"filter":"isValid(datum.q1)"}],"mark":{"type":"bar","height":7},"encoding":{"x":{"field":"q1","type":"quantitative","title":null},"x2":{"field":"q3"},"color":{"field":"g","type":"nominal","title":null}}},
    {"transform":[{"filter":"isValid(datum.q1)"}],"mark":{"type":"tick","color":"white","opacity":0.7,"thickness":1.5,"size":7},"encoding":{"x":{"field":"md","type":"quantitative","title":null}}},
    {"transform":[{"filter":"datum.t == 'c'"}],"mark":{"type":"point","shape":"circle","filled":false,"color":"#777","size":20,"strokeWidth":1},"encoding":{"x":{"field":"v","type":"quantitative","title":null}}},
    {"transform":[{"filter":"datum.t == 'x'"}],"mark":{"type":"point","shape":"M-1,-1L1,1M-1,1L1,-1","filled":false,"color":"#777","size":20,"strokeWidth":1},"encoding":{"x":{"field":"v","type":"quantitative","title":null}}}
    ]},
    {"transform":[{"filter":"isValid(datum.q1)"}],"mark":{"type":"tick","opacity":0},"encoding":{"x":{"field":"md","type":"quantitative","title":null,"axis":{"orient":"top","labels":false,"ticks":false,"grid":false,"domainDash":[6,4],"domainColor":"#999","offset":12}}}}
   ],"resolve":{"axis":{"x":"independent"}}}},
 {"data":{"name":"d"},"transform":[{"filter":"datum.m == 'K' && datum.s == '502 × all'"}],
  "facet":{"row":{"field":"s","type":"nominal","title":null,"header":{"labels":false,"title":null}}},
  "spec":{"width":198,"height":40,"encoding":{"y":{"field":"g","type":"nominal","scale":{"paddingInner":0,"paddingOuter":0},"axis":null}},
   "layer":[
    {"layer":[
    {"transform":[{"filter":"isValid(datum.q1)"}],"mark":{"type":"rule","strokeWidth":1.5,"opacity":0.6},"encoding":{"x":{"field":"lo","type":"quantitative","title":null,"scale":{"domain":[0,9000],"nice":false},"axis":{"orient":"bottom","values":[0,2000,4000,6000,8000],"tickCount":12,"labelOverlap":false,"labelExpr":"format(datum.value, '~s')","grid":true}},"x2":{"field":"hi"},"color":{"field":"g","type":"nominal","title":null}}},
    {"transform":[{"filter":"isValid(datum.q1)"}],"mark":{"type":"tick","thickness":1.5,"size":7},"encoding":{"x":{"field":"lo","type":"quantitative","title":null},"color":{"field":"g","type":"nominal","title":null}}},
    {"transform":[{"filter":"isValid(datum.q1)"}],"mark":{"type":"tick","thickness":1.5,"size":7},"encoding":{"x":{"field":"hi","type":"quantitative","title":null},"color":{"field":"g","type":"nominal","title":null}}},
    {"transform":[{"filter":"isValid(datum.q1)"}],"mark":{"type":"bar","height":7},"encoding":{"x":{"field":"q1","type":"quantitative","title":null},"x2":{"field":"q3"},"color":{"field":"g","type":"nominal","title":null}}},
    {"transform":[{"filter":"isValid(datum.q1)"}],"mark":{"type":"tick","color":"white","opacity":0.7,"thickness":1.5,"size":7},"encoding":{"x":{"field":"md","type":"quantitative","title":null}}},
    {"transform":[{"filter":"datum.t == 'c'"}],"mark":{"type":"point","shape":"circle","filled":false,"color":"#777","size":20,"strokeWidth":1},"encoding":{"x":{"field":"v","type":"quantitative","title":null}}},
    {"transform":[{"filter":"datum.t == 'x'"}],"mark":{"type":"point","shape":"M-1,-1L1,1M-1,1L1,-1","filled":false,"color":"#777","size":20,"strokeWidth":1},"encoding":{"x":{"field":"v","type":"quantitative","title":null}}}
    ]},
    {"transform":[{"filter":"isValid(datum.q1)"}],"mark":{"type":"tick","opacity":0},"encoding":{"x":{"field":"md","type":"quantitative","title":null,"axis":{"orient":"top","labels":false,"ticks":false,"grid":false,"domainDash":[6,4],"domainColor":"#999","offset":12}}}}
   ],"resolve":{"axis":{"x":"independent"}}}},
 {"data":{"name":"d"},"transform":[{"filter":"datum.m == 'D' && datum.s == '502 × all'"}],
  "facet":{"row":{"field":"s","type":"nominal","title":null,"header":{"labels":false,"title":null}}},
  "spec":{"width":198,"height":40,"encoding":{"y":{"field":"g","type":"nominal","scale":{"paddingInner":0,"paddingOuter":0},"axis":null}},
   "layer":[
    {"layer":[
    {"transform":[{"filter":"isValid(datum.q1)"}],"mark":{"type":"rule","strokeWidth":1.5,"opacity":0.6},"encoding":{"x":{"field":"lo","type":"quantitative","title":null,"scale":{"type":"log","domain":[0.1,1000000],"nice":false},"axis":{"orient":"bottom","values":[0.1,1,10,100,1000,10000,100000,1000000],"labelOverlap":false,"labelExpr":"datum.value < 0.5 ? '00' : (round(log(datum.value)/LN10) % 2 == 0 ? format(datum.value, '~s') : '')","labelOpacity":{"condition":{"test":"datum.value < 0.5","value":0},"value":1},"tickOpacity":{"condition":{"test":"round(log(datum.value)/LN10) % 2 == 0","value":1},"value":0},"grid":true}},"x2":{"field":"hi"},"color":{"field":"g","type":"nominal","title":null}}},
    {"transform":[{"filter":"isValid(datum.q1)"}],"mark":{"type":"tick","thickness":1.5,"size":7},"encoding":{"x":{"field":"lo","type":"quantitative","title":null},"color":{"field":"g","type":"nominal","title":null}}},
    {"transform":[{"filter":"isValid(datum.q1)"}],"mark":{"type":"tick","thickness":1.5,"size":7},"encoding":{"x":{"field":"hi","type":"quantitative","title":null},"color":{"field":"g","type":"nominal","title":null}}},
    {"transform":[{"filter":"isValid(datum.q1)"}],"mark":{"type":"bar","height":7},"encoding":{"x":{"field":"q1","type":"quantitative","title":null},"x2":{"field":"q3"},"color":{"field":"g","type":"nominal","title":null}}},
    {"transform":[{"filter":"isValid(datum.q1)"}],"mark":{"type":"tick","color":"white","opacity":0.7,"thickness":1.5,"size":7},"encoding":{"x":{"field":"md","type":"quantitative","title":null}}},
    {"transform":[{"filter":"datum.t == 'c'"}],"mark":{"type":"point","shape":"circle","filled":false,"color":"#777","size":20,"strokeWidth":1},"encoding":{"x":{"field":"v","type":"quantitative","title":null}}},
    {"transform":[{"filter":"datum.t == 'x'"}],"mark":{"type":"point","shape":"M-1,-1L1,1M-1,1L1,-1","filled":false,"color":"#777","size":20,"strokeWidth":1},"encoding":{"x":{"field":"v","type":"quantitative","title":null}}}
    ]},
    {"transform":[{"filter":"isValid(datum.q1)"}],"mark":{"type":"tick","opacity":0},"encoding":{"x":{"field":"md","type":"quantitative","title":null,"axis":{"orient":"top","labels":false,"ticks":false,"grid":false,"domainDash":[6,4],"domainColor":"#999","offset":12}}}}
   ],"resolve":{"axis":{"x":"independent"}}}}
],"spacing":37}
]
}
